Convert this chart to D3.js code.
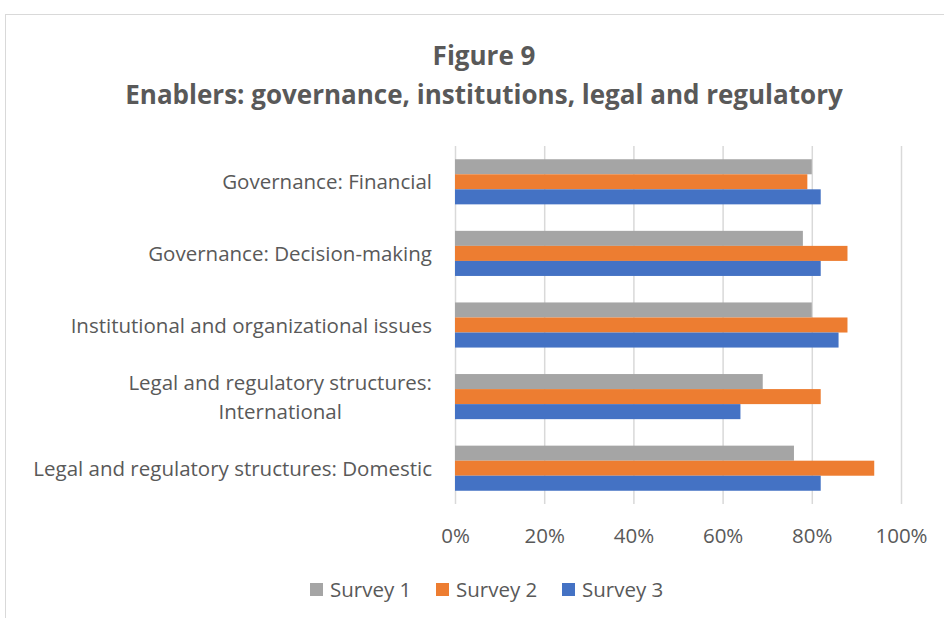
<!DOCTYPE html>
<html>
<head>
<meta charset="utf-8">
<script src="https://cdn.jsdelivr.net/npm/d3@7"></script>
<style>
  body { margin: 0; background: #fff; }
  svg text { font-family: "Open Sans", sans-serif; fill: #595959; }
</style>
</head>
<body>
<div id="chart"></div>
<script>
// Data
const categories = [
  ['Governance: Financial'],
  ['Governance: Decision-making'],
  ['Institutional and organizational issues'],
  ['Legal and regulatory structures:', 'International'],
  ['Legal and regulatory structures: Domestic']
];
const seriesNames = ['Survey 1', 'Survey 2', 'Survey 3'];
const survey1 = [80, 78, 80, 69, 76];
const survey2 = [79, 88, 88, 82, 94];
const survey3 = [82, 82, 86, 64, 82];
const xTicks = [0, 20, 40, 60, 80, 100];
const colors = ['#A5A5A5', '#ED7D31', '#4472C4'];

const width = 944;
const height = 618;

// plot area
const plotLeft = 455;
const plotRight = 901;
const plotTop = 146;
const plotBottom = 504;

const svg = d3.select('#chart')
  .append('svg')
  .attr('width', width)
  .attr('height', height);

// chart frame
svg.append('rect')
  .attr('x', 5.5)
  .attr('y', 14.5)
  .attr('width', 1000)
  .attr('height', 1000)
  .attr('fill', 'none')
  .attr('stroke', '#D9D9D9');

// title
svg.append('text')
  .attr('x', 484)
  .attr('y', 65)
  .attr('text-anchor', 'middle')
  .attr('font-size', '26px')
  .attr('font-weight', 'bold')
  .text('Figure 9');
svg.append('text')
  .attr('x', 484)
  .attr('y', 104)
  .attr('text-anchor', 'middle')
  .attr('font-size', '26px')
  .attr('font-weight', 'bold')
  .text('Enablers: governance, institutions, legal and regulatory');

const x = d3.scaleLinear().domain([0, 100]).range([plotLeft, plotRight]);

const y = d3.scaleBand()
  .domain(d3.range(categories.length))
  .range([plotTop, plotBottom])
  .paddingInner(0.37)
  .paddingOuter(0.185);

const ySub = d3.scaleBand()
  .domain(d3.range(seriesNames.length))
  .range([0, y.bandwidth()]);

// gridlines + tick labels
const xAxis = svg.append('g')
  .attr('transform', `translate(0,${plotBottom})`)
  .call(d3.axisBottom(x)
    .tickValues(xTicks)
    .tickSize(-(plotBottom - plotTop))
    .tickPadding(24)
    .tickFormat(d => d + '%'));
xAxis.select('.domain').remove();
xAxis.selectAll('line')
  .attr('stroke', '#D9D9D9')
  .attr('stroke-width', 1.5);
xAxis.selectAll('text')
  .attr('font-size', '20.5px')
  .attr('font-family', '"Open Sans", sans-serif')
  .attr('fill', '#595959');

// bars
const allSeries = [survey1, survey2, survey3];
allSeries.forEach((vals, s) => {
  svg.append('g')
    .selectAll('rect')
    .data(vals)
    .enter()
    .append('rect')
    .attr('x', x(0))
    .attr('y', (d, i) => y(i) + ySub(s))
    .attr('width', d => x(d) - x(0))
    .attr('height', ySub.bandwidth())
    .attr('fill', colors[s]);
});

// category labels (multi-line ones are centred as a block, block right-aligned)
const labelG = svg.append('g');
categories.forEach((lines, i) => {
  const cy = y(i) + y.bandwidth() / 2;
  const lh = 29;
  const t = labelG.append('text')
    .attr('font-size', '20.5px')
    .attr('text-anchor', lines.length > 1 ? 'middle' : 'end');
  lines.forEach((ln, j) => {
    t.append('tspan')
      .attr('x', 432)
      .attr('y', cy + (j - (lines.length - 1) / 2) * lh + 7.5)
      .text(ln);
  });
  if (lines.length > 1) {
    const w = t.node().getBBox().width;
    t.selectAll('tspan').attr('x', 432 - w / 2);
  }
});

// legend
const legend = svg.append('g');
seriesNames.forEach((name, i) => {
  const lx = 310 + i * 126;
  legend.append('rect')
    .attr('x', lx)
    .attr('y', 583)
    .attr('width', 13)
    .attr('height', 13)
    .attr('fill', colors[i]);
  legend.append('text')
    .attr('x', lx + 20)
    .attr('y', 597)
    .attr('font-size', '20.5px')
    .text(name);
});
</script>
</body>
</html>
